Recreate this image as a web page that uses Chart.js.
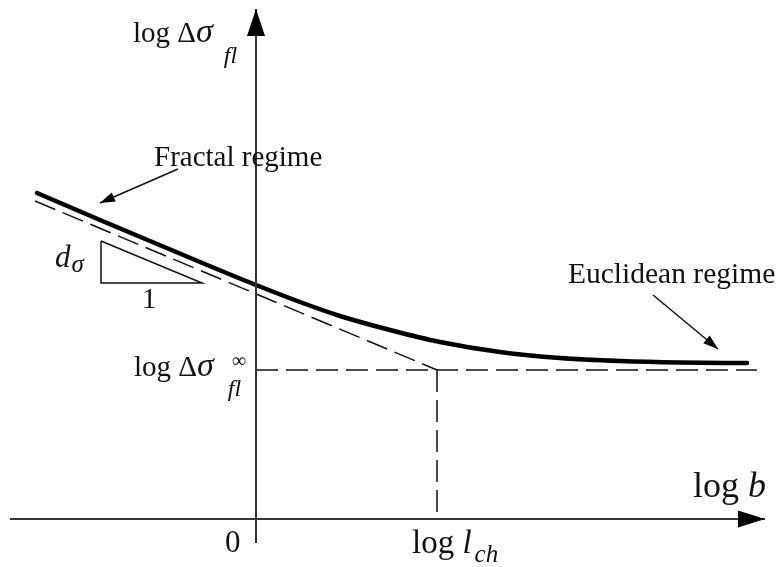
<!DOCTYPE html>
<html>
<head>
<meta charset="utf-8">
<script src="https://cdn.jsdelivr.net/npm/chart.js@4"></script>
<style>
  html, body { margin: 0; padding: 0; background: #fff; }
  #wrap { width: 781px; height: 567px; position: relative; }
</style>
</head>
<body>
<div id="wrap"><canvas id="chart"></canvas></div>
<script>
// schematic coordinates: x = log b, y = log delta sigma (origin at the axes crossing)
const curveX = [-2.19, -1.56, -1.06, -0.56, 0, 0.44, 0.84, 1.34, 1.84, 2.44, 3.04, 3.64, 4.24, 4.91];
const curveY = [3.26, 2.99, 2.78, 2.57, 2.34, 2.17, 2.03, 1.89, 1.77, 1.67, 1.61, 1.58, 1.565, 1.56];

const fractalX = [-2.21, 1.81];
const fractalY = [3.18, 1.49];
const plateauX = [0, 5.01];
const plateauY = [1.49, 1.49];
const lchX = [1.81, 1.81];
const lchY = [1.49, 0];

const triangleX = [-1.55, -1.55, -0.54, -1.55];
const triangleY = [2.78, 2.36, 2.36, 2.78];

const xAxisX = [-2.46, 5.09];
const xAxisY = [0, 0];
const yAxisX = [0, 0];
const yAxisY = [-0.24, 5.10];

const fractalArrowX = [-0.78, -1.56];
const fractalArrowY = [3.50, 3.16];
const euclidArrowX = [3.97, 4.62];
const euclidArrowY = [2.24, 1.70];

function pts(xs, ys) {
    return xs.map((x, i) => ({ x, y: ys[i] }));
}

function lineSet(xs, ys, color, width, dash) {
    return {
        data: pts(xs, ys),
        showLine: true,
        borderColor: color,
        borderWidth: width,
        borderDash: dash || [],
        pointRadius: 0,
        fill: false,
        tension: 0
    };
}

const serif = '"Liberation Serif", "DejaVu Serif", serif';

function drawRich(ctx, x, y, parts) {
    let cx = x;
    parts.forEach(p => {
        ctx.font = p.font;
        const start = cx + (p.dx || 0);
        ctx.fillText(p.t, start, y + (p.dy || 0));
        if (!p.noAdvance) {
            cx = start + ctx.measureText(p.t).width;
        }
    });
}

function arrowHead(ctx, x1, y1, x2, y2, len, half) {
    const a = Math.atan2(y2 - y1, x2 - x1);
    ctx.beginPath();
    ctx.moveTo(x2, y2);
    ctx.lineTo(x2 - len * Math.cos(a) + half * Math.sin(a), y2 - len * Math.sin(a) - half * Math.cos(a));
    ctx.lineTo(x2 - len * Math.cos(a) - half * Math.sin(a), y2 - len * Math.sin(a) + half * Math.cos(a));
    ctx.closePath();
    ctx.fill();
}

const schematic = {
    id: "schematic",
    afterDatasetsDraw(chart) {
        const ctx = chart.ctx;
        const xs = chart.scales.x;
        const ys = chart.scales.y;
        const px = v => xs.getPixelForValue(v);
        const py = v => ys.getPixelForValue(v);

        ctx.save();
        ctx.fillStyle = "#000";
        arrowHead(ctx, px(xAxisX[0]), py(xAxisY[0]), px(xAxisX[1]), py(xAxisY[1]), 27, 8.5);
        arrowHead(ctx, px(yAxisX[0]), py(yAxisY[0]), px(yAxisX[1]), py(yAxisY[1]), 27, 9);
        arrowHead(ctx, px(fractalArrowX[0]), py(fractalArrowY[0]), px(fractalArrowX[1]), py(fractalArrowY[1]), 15, 5);
        arrowHead(ctx, px(euclidArrowX[0]), py(euclidArrowY[0]), px(euclidArrowX[1]), py(euclidArrowY[1]), 15, 5);

        ctx.fillStyle = "#111";
        ctx.textBaseline = "alphabetic";
        ctx.textAlign = "left";

        drawRich(ctx, 133, 42, [
            { t: "log ", font: "29px " + serif },
            { t: "\u0394", font: "29px " + serif },
            { t: "\u03c3", font: "italic 34px " + serif },
            { t: "fl", font: "italic 24px " + serif, dx: 11, dy: 21 }
        ]);
        drawRich(ctx, 134, 376, [
            { t: "log ", font: "29px " + serif },
            { t: "\u0394", font: "29px " + serif },
            { t: "\u03c3", font: "italic 34px " + serif },
            { t: "\u221e", font: "20px " + serif, dx: 18, dy: -9, noAdvance: true },
            { t: "fl", font: "italic 24px " + serif, dx: 14, dy: 20 }
        ]);
        drawRich(ctx, 225, 552, [{ t: "0", font: "31px " + serif }]);
        drawRich(ctx, 412, 553, [
            { t: "log ", font: "33px " + serif },
            { t: "l", font: "italic 33px " + serif },
            { t: "ch", font: "italic 25px " + serif, dx: 3, dy: 9 }
        ]);
        drawRich(ctx, 693, 497, [
            { t: "log ", font: "36px " + serif },
            { t: "b", font: "italic 36px " + serif }
        ]);
        drawRich(ctx, 154, 166, [{ t: "Fractal regime", font: "29px " + serif }]);
        drawRich(ctx, 568, 283, [{ t: "Euclidean regime", font: "29.5px " + serif }]);
        drawRich(ctx, 55, 267, [
            { t: "d", font: "italic 31px " + serif },
            { t: "\u03c3", font: "italic 25px " + serif, dx: 1, dy: 5 }
        ]);
        drawRich(ctx, 142, 308, [{ t: "1", font: "29px " + serif }]);
        ctx.restore();
    }
};

new Chart(document.getElementById("chart"), {
    type: "scatter",
    data: {
        datasets: [
            lineSet(xAxisX, xAxisY, "#333", 2),
            lineSet(yAxisX, yAxisY, "#333", 2),
            lineSet(fractalX, fractalY, "#111", 1.5, [22, 8]),
            lineSet(plateauX, plateauY, "#111", 1.5, [22, 8]),
            lineSet(lchX, lchY, "#111", 1.5, [22, 8]),
            lineSet(triangleX, triangleY, "#111", 1.5),
            lineSet(fractalArrowX, fractalArrowY, "#111", 1.5),
            lineSet(euclidArrowX, euclidArrowY, "#111", 1.5),
            Object.assign(lineSet(curveX, curveY, "#000", 4.5), {
                cubicInterpolationMode: "monotone",
                borderCapStyle: "round"
            })
        ]
    },
    options: {
        responsive: true,
        maintainAspectRatio: false,
        animation: false,
        layout: { padding: 0 },
        plugins: {
            legend: { display: false },
            tooltip: { enabled: false }
        },
        scales: {
            x: { type: "linear", min: -2.56, max: 5.25, display: false },
            y: { type: "linear", min: -0.48, max: 5.19, display: false }
        }
    },
    plugins: [schematic]
});
</script>
</body>
</html>
